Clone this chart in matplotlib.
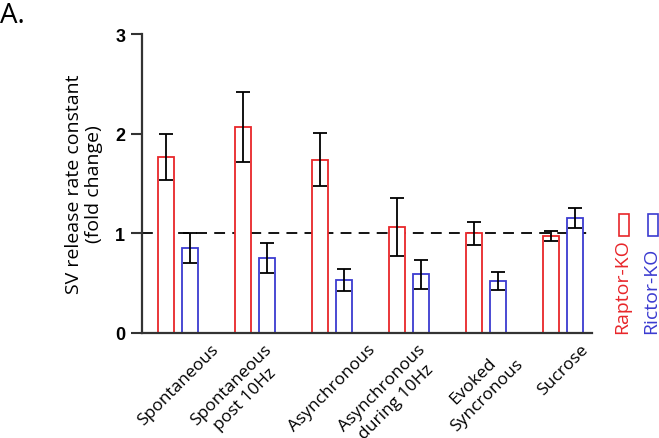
import matplotlib
matplotlib.use("Agg")
import matplotlib.pyplot as plt
import matplotlib.transforms as mtransforms
import numpy as np
from matplotlib.patches import Rectangle

# ---- Data ----
categories = ["Spontaneous", "Spontaneous\npost 10Hz", "Asynchronous",
              "Asynchronous\nduring 10Hz", "Evoked\nSyncronous", "Sucrose"]
raptor_mean = [1.77, 2.07, 1.74, 1.06, 1.00, 0.97]
raptor_err = [0.23, 0.35, 0.27, 0.29, 0.115, 0.05]
rictor_mean = [0.85, 0.75, 0.53, 0.59, 0.52, 1.15]
rictor_err = [0.15, 0.15, 0.11, 0.145, 0.09, 0.10]
yticks = [0, 1, 2, 3]

red = "#e8262a"
blue = "#3b3bd0"
label_font = "Open Sans"
tick_font = "Liberation Sans"

fig = plt.figure(figsize=(6.59, 4.39), dpi=100)
ax = fig.add_axes([142 / 659, 1 - 334 / 439, 450 / 659, 299 / 439])

x = np.arange(len(categories))
w = 0.21
off = 0.155

ax.bar(x - off, raptor_mean, width=w, facecolor="white", edgecolor=red, linewidth=1.3, zorder=2)
ax.bar(x + off, rictor_mean, width=w, facecolor="white", edgecolor=blue, linewidth=1.3, zorder=2)
ax.errorbar(x - off, raptor_mean, yerr=raptor_err, fmt="none", ecolor="black",
            elinewidth=1.3, capsize=5, capthick=1.3, zorder=3)
ax.errorbar(x + off, rictor_mean, yerr=rictor_err, fmt="none", ecolor="black",
            elinewidth=1.3, capsize=5, capthick=1.3, zorder=3)

# reference line at fold change = 1
ax.axhline(1, color="black", linestyle=(0, (6, 4)), linewidth=1.3, zorder=1)

ax.set_xlim(-0.47, 5.38)
ax.set_ylim(0, 3)
ax.set_yticks(yticks)
ax.set_yticklabels([str(t) for t in yticks], fontfamily=tick_font, fontweight="bold", fontsize=13)
ax.set_xticks(x)
ax.set_xticklabels(categories, rotation=45, ha="center", va="top", multialignment="center",
                   fontfamily=label_font, fontsize=12.5, linespacing=1.3)
ax.tick_params(axis="x", length=0, pad=6)
ax.tick_params(axis="y", length=8, width=1.5, pad=4, color="#333333")

# two-line labels sit a little left of their group in the original
shift_px = [0, -17, 0, -20, -6, 0]
for lab, dx in zip(ax.get_xticklabels(), shift_px):
    lab.set_transform(lab.get_transform() + mtransforms.ScaledTranslation(dx / 100, 0, fig.dpi_scale_trans))

for s in ["top", "right"]:
    ax.spines[s].set_visible(False)
for s in ["left", "bottom"]:
    ax.spines[s].set_linewidth(1.6)
    ax.spines[s].set_color("#333333")

ax.set_ylabel("SV release rate constant\n(fold change)", fontfamily=label_font, fontsize=14,
              labelpad=9, linespacing=1.15)

# panel letter
fig.text(0.0, 1 - 2 / 439, "A.", fontfamily=label_font, fontsize=20, va="top", ha="left")

# vertical legend on the right
fig.text(622 / 659, 1 - 334 / 439, "Raptor-KO", color=red, rotation=90, ha="center", va="bottom",
         fontfamily=label_font, fontsize=14)
fig.text(651 / 659, 1 - 334 / 439, "Rictor-KO", color=blue, rotation=90, ha="center", va="bottom",
         fontfamily=label_font, fontsize=14)
fig.add_artist(Rectangle((619 / 659, 1 - 237 / 439), 10 / 659, 22 / 439, transform=fig.transFigure,
                         facecolor="none", edgecolor=red, linewidth=1.2))
fig.add_artist(Rectangle((648 / 659, 1 - 237 / 439), 10 / 659, 22 / 439, transform=fig.transFigure,
                         facecolor="none", edgecolor=blue, linewidth=1.2))

fig.savefig("out.png", dpi=100)
